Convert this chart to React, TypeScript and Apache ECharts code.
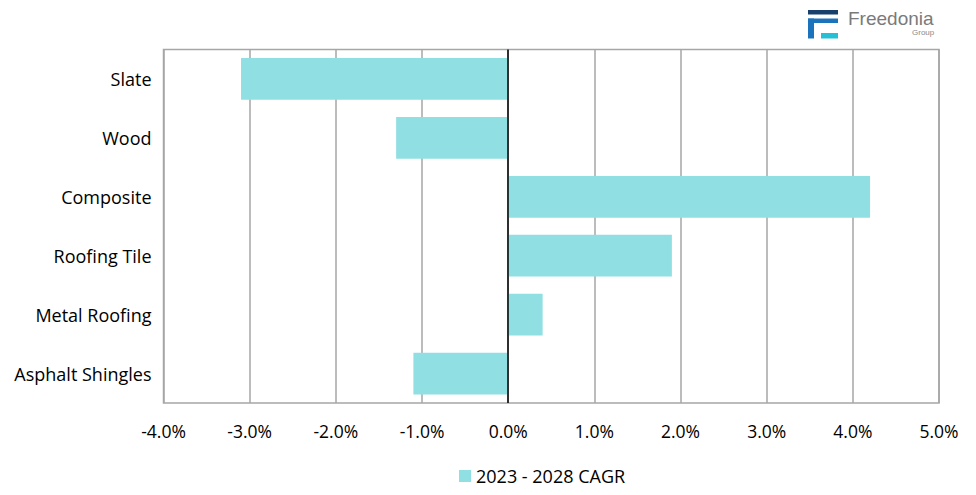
import React, { useEffect, useRef } from "react";
import * as echarts from "echarts";

const categories = ["Slate", "Wood", "Composite", "Roofing Tile", "Metal Roofing", "Asphalt Shingles"];
const cagrValues = [-3.1, -1.3, 4.2, 1.9, 0.4, -1.1];
const seriesName = "2023 - 2028 CAGR";

const FONT = "'Open Sans', 'Liberation Sans', Arial, sans-serif";

export default function App() {
  const ref = useRef<HTMLDivElement>(null);
  useEffect(() => {
    if (!ref.current) return;
    const chart = echarts.init(ref.current, null, { renderer: "svg" });
    chart.setOption({
      animation: false,
      backgroundColor: "#ffffff",
      textStyle: { fontFamily: FONT },
      grid: { left: 163.5, right: 37, top: 49.5, bottom: 92, show: true, borderColor: "#a6a6a6", borderWidth: 1.5 },
      xAxis: {
        type: "value",
        min: -4,
        max: 5,
        interval: 1,
        axisLine: { show: false },
        axisTick: { show: false },
        splitLine: { show: true, lineStyle: { color: "#a6a6a6", width: 1.5 } },
        axisLabel: {
          formatter: (v: number) => v.toFixed(1) + "%",
          color: "#000",
          fontSize: 17.5,
          fontFamily: FONT,
          margin: 19,
        },
      },
      yAxis: {
        type: "category",
        data: categories,
        inverse: true,
        axisLine: { show: false },
        axisTick: { show: false },
        splitLine: { show: false },
        axisLabel: { color: "#000", fontSize: 18, fontFamily: FONT, margin: 12 },
      },
      legend: {
        data: [seriesName],
        bottom: 5,
        left: 454,
        itemWidth: 12,
        itemHeight: 12,
        icon: "rect",
        itemGap: 8,
        textStyle: { color: "#000", fontSize: 18, fontFamily: FONT },
      },
      series: [
        {
          name: seriesName,
          type: "bar",
          data: cagrValues,
          barWidth: "71%",
          itemStyle: { color: "#90dfe3" },
          markLine: {
            silent: true,
            symbol: "none",
            label: { show: false },
            lineStyle: { color: "#000", width: 1.5, type: "solid" },
            data: [{ xAxis: 0 }],
          },
        },
      ],
      graphic: [
        { type: "rect", shape: { x: 808, y: 10, width: 30, height: 4.5 }, style: { fill: "#17406d" } },
        { type: "rect", shape: { x: 808, y: 18.5, width: 30, height: 4.5 }, style: { fill: "#1b74bb" } },
        { type: "rect", shape: { x: 808, y: 18.5, width: 6, height: 20 }, style: { fill: "#1b74bb" } },
        { type: "rect", shape: { x: 821, y: 33, width: 17, height: 5.5 }, style: { fill: "#25c0d6" } },
        {
          type: "text",
          x: 848,
          y: 9,
          style: { text: "Freedonia", fill: "#7a7a7a", font: "19px 'Liberation Sans', Arial, sans-serif" },
        },
        {
          type: "text",
          x: 912,
          y: 28,
          style: { text: "Group", fill: "#8a8a8a", font: "8px 'Liberation Sans', Arial, sans-serif" },
        },
      ],
    });
    return () => chart.dispose();
  }, []);
  return <div ref={ref} style={{ width: 976, height: 495, position: "absolute", left: 0, top: 0 }} />;
}
